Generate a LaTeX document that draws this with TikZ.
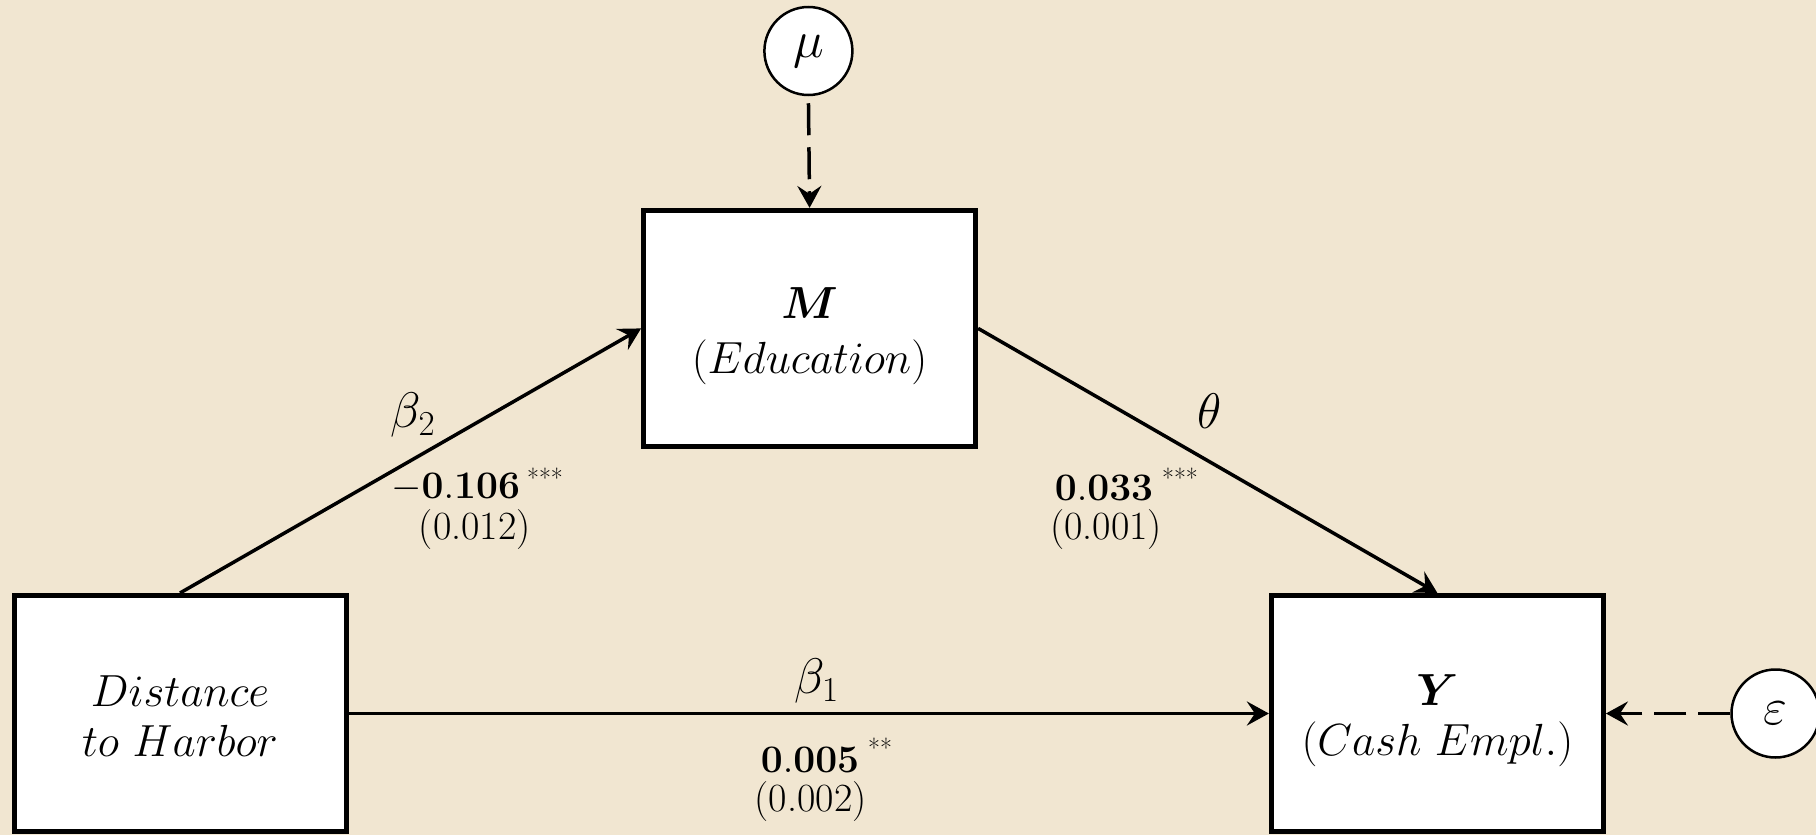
\RequirePackage{fix-cm}
\documentclass[tikz,border=0pt]{standalone}
\usepackage{bm}
\usetikzlibrary{arrows.meta}
\definecolor{bgc}{RGB}{241,230,209}
\tikzset{
 box/.style={draw, line width=5pt, fill=white, minimum width=332pt, minimum height=236pt, inner sep=0pt},
 boxtext/.style={align=center, inner sep=0pt, font=\fontsize{45}{50}\selectfont},
 latent/.style={draw, circle, line width=2.5pt, fill=white, minimum size=88pt, inner sep=0pt, font=\fontsize{52}{60}\selectfont},
 arr/.style={line width=3.5pt, -{Stealth[length=22pt,width=24pt,inset=8pt]}},
 darr/.style={arr, dash pattern=on 32pt off 12pt},
 coef/.style={font=\fontsize{39}{44}\selectfont, inner sep=0pt},
 se/.style={font=\fontsize{40}{44}\selectfont, inner sep=0pt},
 stars/.style={font=\fontsize{26}{30}\selectfont, inner sep=0pt},
 greek/.style={font=\fontsize{50}{56}\selectfont, inner sep=0pt}
}
\begin{document}
\begin{tikzpicture}[x=1pt,y=-1pt]
\fill[bgc] (0,0) rectangle (1816,835);
\useasboundingbox (0,0) rectangle (1816,835);
\node[box] (X) at (180,713.5) {};
\node[box] (M) at (809.6,328.4) {};
\node[box] (Y) at (1437.4,713.5) {};
\node[boxtext, yshift=-3pt] (Xt) at (X.center) {$Distance$\\$to\ Harbor$};
\node[boxtext, yshift=-8pt] (Mt) at (M.center) {$\bm{M}$\\[5pt]$(Education)$};
\node[boxtext, yshift=-7pt] (Yt) at (Y.center) {$\bm{Y}$\\$(Cash\ Empl.)$};
\node[latent] (mu) at (808.4,51) {$\mu$};
\node[latent] (eps) at (1775.5,713.5) {$\varepsilon$};
\draw[arr] (X.north) -- (M.west);
\draw[arr] (M.east) -- (Y.north);
\draw[arr] (X.east) -- (Y.west);
\draw[darr, shorten <=7pt] (mu.south) -- (M.north);
\draw[darr] (eps.west) -- (Y.east);
\node[greek] (b2) at (413,415) {$\beta_2$};
\node[coef] (c2) at (455.7,487.6) {$-\mathbf{0.106}$};
\node[stars] (s2) at (545,478) {***};
\node[se] (e2) at (474.8,529.3) {(0.012)};
\node[greek] (th) at (1210,411) {$\theta$};
\node[coef] (c3) at (1104,487.6) {$\mathbf{0.033}$};
\node[stars] (s3) at (1180,478) {***};
\node[se] (e3) at (1106,529.3) {(0.001)};
\node[greek] (b1) at (816.5,681) {$\beta_1$};
\node[coef] (c1) at (810,760) {$\mathbf{0.005}$};
\node[stars] (s1) at (880,748) {**};
\node[se] (e1) at (810.7,801.5) {(0.002)};
\end{tikzpicture}
\end{document}
